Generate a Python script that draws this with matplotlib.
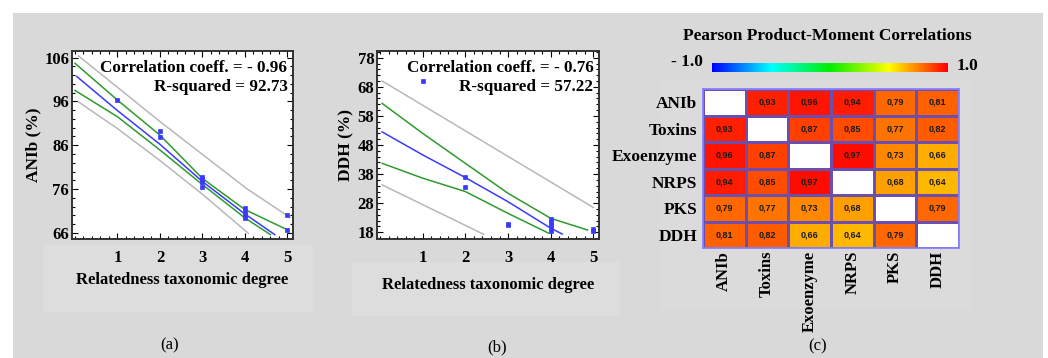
import numpy as np
import matplotlib
matplotlib.use("Agg")
import matplotlib.pyplot as plt
from matplotlib.patches import Rectangle
from matplotlib.colors import LinearSegmentedColormap
from matplotlib.ticker import MultipleLocator

plt.rcParams['font.family'] = ['Liberation Serif', 'DejaVu Serif']

# ---- panel (a): ANIb vs relatedness degree ----
a_x = [1, 2, 2, 3, 3, 3, 3, 4, 4, 4, 4, 5, 5]
a_y = [96.3, 89.2, 87.8, 78.8, 78.3, 77.6, 76.5, 71.6, 70.8, 70.0, 69.4, 70.0, 66.6]
a_fit_x = [0.04, 1, 2, 3, 4, 4.7]
a_fit_y = [101.7, 93.9, 86.2, 77.7, 70.3, 65.6]
a_cu_x = [0.0, 1, 2, 3, 4, 5.02]
a_cu_y = [104.7, 96.3, 88.3, 78.4, 71.3, 66.6]
a_cl_x = [0.0, 1, 2, 3, 4, 4.6]
a_cl_y = [98.5, 92.5, 84.9, 77.0, 69.4, 65.6]
a_pu_x = [0.08, 2, 4.04, 5.06]
a_pu_y = [106.4, 91.4, 76.1, 69.5]
a_pl_x = [0.08, 1, 2, 3, 4.08]
a_pl_y = [95.9, 89.8, 82.5, 74.8, 65.9]

# ---- panel (b): DDH vs relatedness degree ----
b_x = [1, 2, 2, 3, 3, 4, 4, 4, 4, 4, 5, 5]
b_y = [70.1, 36.9, 33.5, 21.0, 20.5, 22.5, 21.5, 20.5, 19.5, 18.5, 19.0, 18.5]
b_fit_x = [0.05, 1, 2, 3, 4, 4.27]
b_fit_y = [52.5, 44.6, 36.8, 28.5, 19.4, 17.4]
b_cu_x = [0.05, 1, 2, 3, 4, 4.86]
b_cu_y = [62.3, 52.0, 41.7, 31.4, 22.8, 18.8]
b_cl_x = [0.05, 1, 2, 3, 3.95]
b_cl_y = [41.7, 36.6, 32.0, 24.5, 17.7]
b_pu_x = [0.05, 5.0]
b_pu_y = [70.0, 26.5]
b_pl_x = [0.05, 2.43]
b_pl_y = [34.3, 17.3]

# ---- panel (c): correlation matrix ----
names = ['ANIb', 'Toxins', 'Exoenzyme', 'NRPS', 'PKS', 'DDH']
corr = [
    [None, 0.93, 0.96, 0.94, 0.79, 0.81],
    [0.93, None, 0.87, 0.85, 0.77, 0.82],
    [0.96, 0.87, None, 0.97, 0.73, 0.66],
    [0.94, 0.85, 0.97, None, 0.68, 0.64],
    [0.79, 0.77, 0.73, 0.68, None, 0.79],
    [0.81, 0.82, 0.66, 0.64, 0.79, None],
]

W, H = 1048, 358
fig = plt.figure(figsize=(W / 100, H / 100), dpi=100)
fig.patch.set_facecolor('white')


def box(x0, y0, x1, y1):
    # pixel box (top-left origin) -> figure fraction rect
    return [x0 / W, 1 - y1 / H, (x1 - x0) / W, (y1 - y0) / H]


# gray background and a few lighter panels
def bg(x0, y0, x1, y1, c, z=-10):
    r = box(x0, y0, x1, y1)
    fig.add_artist(Rectangle((r[0], r[1]), r[2], r[3], transform=fig.transFigure,
                             facecolor=c, edgecolor='none', zorder=z))


bg(13, 13, 1043, 358, '#d9d9d9')
bg(43, 245, 313, 312, '#dddddd', -9)
bg(352, 262, 620, 316, '#dddddd', -9)
bg(660, 80, 972, 310, '#dbdbdb', -9)

blue = '#3a3aff'
green = '#2e9a2e'
gray = '#b8b8b8'


def reg_panel(rect, px, py, fit, cu, cl, pu, pl, ylim, yticks, ylabel, r, r2, xpad):
    ax = fig.add_axes(rect)
    ax.plot(pu[0], pu[1], color=gray, lw=1.1)
    ax.plot(pl[0], pl[1], color=gray, lw=1.1)
    ax.plot(cu[0], cu[1], color=green, lw=1.1)
    ax.plot(cl[0], cl[1], color=green, lw=1.1)
    ax.plot(fit[0], fit[1], color=blue, lw=1.1)
    ax.plot(px, py, 's', color=blue, ms=2.8, mec=blue, mew=0.5)
    ax.set_xlim(-0.07, 5.13)
    ax.set_ylim(*ylim)
    ax.set_xticks([1, 2, 3, 4, 5])
    ax.set_yticks(yticks)
    ax.xaxis.set_minor_locator(MultipleLocator(0.2))
    ax.yaxis.set_minor_locator(MultipleLocator(2))
    ax.tick_params(which='both', direction='in', top=True, right=True, width=0.8,
                   labelsize=12, pad=2)
    ax.tick_params(which='major', length=4)
    ax.tick_params(which='minor', length=2.5)
    for lab in ax.get_xticklabels() + ax.get_yticklabels():
        lab.set_fontweight('bold')
    ax.tick_params(axis='x', pad=8)
    for s in ax.spines.values():
        s.set_linewidth(1.4)
        s.set_color('#333333')
    ax.set_ylabel(ylabel, fontsize=12.5, fontweight='bold', labelpad=2)
    ax.set_xlabel('Relatedness taxonomic degree', fontsize=12, fontweight='bold', labelpad=xpad)
    ax.text(0.975, 0.95, 'Correlation coeff. = - %.2f' % r, transform=ax.transAxes,
            ha='right', va='top', fontsize=12.3, fontweight='bold')
    ax.text(0.975, 0.85, 'R-squared = %.2f' % r2, transform=ax.transAxes,
            ha='right', va='top', fontsize=12.3, fontweight='bold')
    return ax


axa = reg_panel(box(72, 51, 293, 239), a_x, a_y, (a_fit_x, a_fit_y), (a_cu_x, a_cu_y),
                (a_cl_x, a_cl_y), (a_pu_x, a_pu_y), (a_pl_x, a_pl_y),
                (64.6, 107.5), [66, 76, 86, 96, 106], 'ANIb (%)', 0.96, 92.73, 4)
axb = reg_panel(box(377, 51, 599, 239), b_x, b_y, (b_fit_x, b_fit_y), (b_cu_x, b_cu_y),
                (b_cl_x, b_cl_y), (b_pu_x, b_pu_y), (b_pl_x, b_pl_y),
                (15.7, 80.3), [18, 28, 38, 48, 58, 68, 78], 'DDH (%)', 0.76, 57.22, 8)

# heatmap
cmap = LinearSegmentedColormap.from_list(
    'pm', [(0, '#0000ff'), (0.25, '#00ffff'), (0.5, '#00ee00'), (0.75, '#ffff00'), (1, '#ff0000')])
cmap.set_bad('white')
mat = np.array([[np.nan if v is None else v for v in row] for row in corr], dtype=float)

axc = fig.add_axes(box(703, 89, 959, 248))
axc.pcolormesh(np.arange(7), np.arange(7), np.ma.masked_invalid(mat), cmap=cmap,
               vmin=-1, vmax=1, edgecolor='#6a4fb0', linewidth=0.8)
axc.set_xlim(0, 6)
axc.set_ylim(6, 0)
for i in range(6):
    for j in range(6):
        if not np.isnan(mat[i, j]):
            axc.text(j + 0.5, i + 0.5, ('%.2f' % mat[i, j]).replace('.', ','),
                     ha='center', va='center', fontsize=6.5, fontweight='bold',
                     family=['Liberation Sans', 'DejaVu Sans'], color='#1a1a1a')
axc.set_xticks(np.arange(6) + 0.5)
axc.set_yticks(np.arange(6) + 0.5)
axc.set_xticklabels(names, rotation=90, fontsize=12, fontweight='bold')
axc.set_yticklabels(names, fontsize=12.5, fontweight='bold')
axc.tick_params(length=0, pad=4)
axc.tick_params(axis='x', pad=2)
for s in axc.spines.values():
    s.set_color('#8a80ff')
    s.set_linewidth(1.3)

# colour bar
axcb = fig.add_axes(box(712, 63, 948, 72))
axcb.imshow(np.linspace(-1, 1, 256)[None, :], aspect='auto', cmap=cmap, vmin=-1, vmax=1)
axcb.set_axis_off()
fig.text(703 / W, 1 - 62 / H, '- 1.0', ha='right', va='center', fontsize=12.5, fontweight='bold')
fig.text(957 / W, 1 - 66 / H, '1.0', ha='left', va='center', fontsize=12.5, fontweight='bold')
fig.text(827 / W, 1 - 36 / H, 'Pearson Product-Moment Correlations', ha='center',
         va='center', fontsize=12.4, fontweight='bold')

# sub-figure letters
fig.text(170 / W, 1 - 345 / H, '(a)', ha='center', va='center', fontsize=12)
fig.text(497 / W, 1 - 347 / H, '(b)', ha='center', va='center', fontsize=12)
fig.text(818 / W, 1 - 346 / H, '(c)', ha='center', va='center', fontsize=12)

fig.savefig('out.png', dpi=100, facecolor=fig.get_facecolor())
